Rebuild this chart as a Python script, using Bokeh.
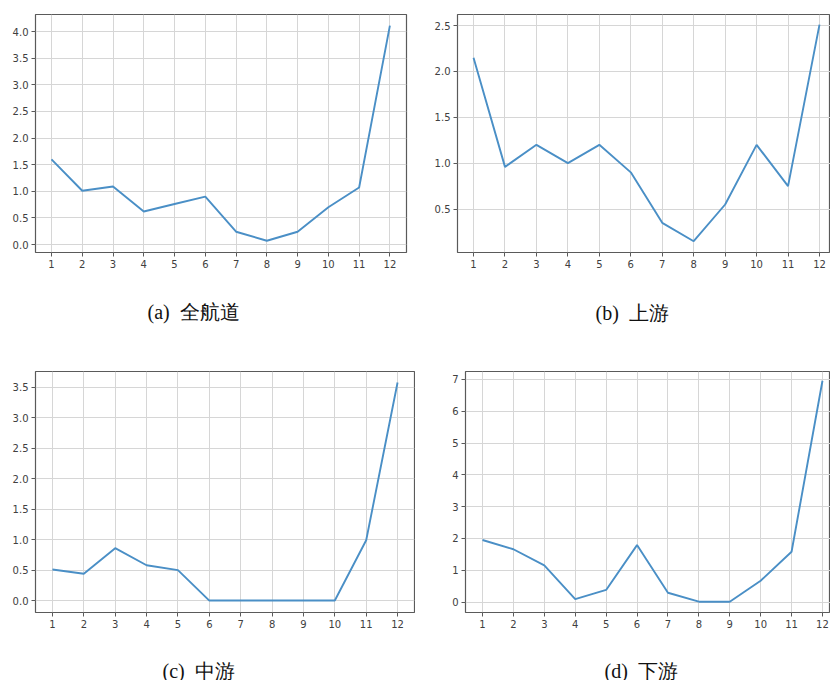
from bokeh.plotting import figure
from bokeh.layouts import column, row
from bokeh.models import FixedTicker, Range1d
from bokeh.core.properties import value
from bokeh.embed import file_html
from bokeh.resources import INLINE

months = [1, 2, 3, 4, 5, 6, 7, 8, 9, 10, 11, 12]

vals_a = [1.60, 1.01, 1.09, 0.62, 0.76, 0.90, 0.24, 0.07, 0.24, 0.70, 1.07, 4.11]
vals_b = [2.15, 0.96, 1.20, 1.00, 1.20, 0.90, 0.35, 0.15, 0.55, 1.20, 0.75, 2.51]
vals_c = [0.51, 0.44, 0.86, 0.58, 0.50, 0.0, 0.0, 0.0, 0.0, 0.0, 0.99, 3.58]
vals_d = [1.95, 1.66, 1.15, 0.09, 0.38, 1.79, 0.29, 0.01, 0.01, 0.67, 1.58, 6.96]

yticks_a = [0.0, 0.5, 1.0, 1.5, 2.0, 2.5, 3.0, 3.5, 4.0]
yticks_b = [0.5, 1.0, 1.5, 2.0, 2.5]
yticks_c = [0.0, 0.5, 1.0, 1.5, 2.0, 2.5, 3.0, 3.5]
yticks_d = [0, 1, 2, 3, 4, 5, 6, 7]

captions = ["(a)\u00a0\u00a0全航道", "(b)\u00a0\u00a0上游",
            "(c)\u00a0\u00a0中游", "(d)\u00a0\u00a0下游"]

LINE = "#4a8fc6"
GRID = "#d6d6d6"
SPINE = "#5a5a5a"
TXT = "#404040"


def panel(vals, yticks, ylabels, xr, yr, w, h, bl, bt, br, bb):
    p = figure(width=w, height=h, output_backend="svg", toolbar_location=None,
               x_range=Range1d(*xr), y_range=Range1d(*yr),
               min_border_left=bl, min_border_top=bt,
               min_border_right=br, min_border_bottom=bb)
    p.line(months, vals, line_color=LINE, line_width=1.9)
    p.xaxis.ticker = FixedTicker(ticks=months)
    p.yaxis.ticker = FixedTicker(ticks=yticks)
    p.yaxis.major_label_overrides = {t: l for t, l in zip(yticks, ylabels)}
    for ax in (p.xaxis[0], p.yaxis[0]):
        ax.axis_line_color = None
        ax.major_tick_line_color = SPINE
        ax.major_tick_out = 4
        ax.major_tick_in = 0
        ax.minor_tick_line_color = None
        ax.major_label_text_font = "DejaVu Sans"
        ax.major_label_text_font_size = "10px"
        ax.major_label_text_color = TXT
        ax.major_label_standoff = 3
    p.xgrid.ticker = FixedTicker(ticks=months)
    p.ygrid.ticker = FixedTicker(ticks=yticks)
    p.grid.grid_line_color = GRID
    p.grid.grid_line_width = 1
    p.outline_line_color = SPINE
    p.outline_line_width = 1.2
    p.outline_line_alpha = 1
    p.background_fill_color = "white"
    p.border_fill_color = "white"
    return p


def caption_box(text, w, h, left, from_top):
    c = figure(width=w, height=h, output_backend="svg", toolbar_location=None,
               x_range=Range1d(0, w), y_range=Range1d(0, h),
               x_axis_type=None, y_axis_type=None, min_border=0)
    c.grid.visible = False
    c.outline_line_color = None
    c.text(x=[left], y=[h - from_top], text=[text],
           text_font=value("Liberation Serif"), text_font_size="20px",
           text_color="#111111", text_align="left", text_baseline="middle")
    return c


def fmt1(t):
    return "%.1f" % t


pa = panel(vals_a, yticks_a, [fmt1(t) for t in yticks_a],
           (0.48, 12.54), (-0.15, 4.32), 415, 290, 35, 14, 9, 37)
pb = panel(vals_b, yticks_b, [fmt1(t) for t in yticks_b],
           (0.49, 12.35), (0.027, 2.62), 415, 290, 42, 11, 0, 38)
pc = panel(vals_c, yticks_c, [fmt1(t) for t in yticks_c],
           (0.46, 12.54), (-0.196, 3.76), 415, 295, 35, 30, 1, 23)
pd_ = panel(vals_d, yticks_d, [str(t) for t in yticks_d],
            (0.45, 12.26), (-0.33, 7.25), 415, 295, 50, 31, 0, 22)

ca = caption_box(captions[0], 415, 50, 147, 21)
cb = caption_box(captions[1], 415, 50, 180, 22)
cc = caption_box(captions[2], 415, 45, 162, 35)
cd = caption_box(captions[3], 415, 45, 189, 35)

layout = column(row(pa, pb, spacing=0), row(ca, cb, spacing=0),
                row(pc, pd_, spacing=0), row(cc, cd, spacing=0), spacing=0)

open("out.html", "w").write(file_html(layout, INLINE))
